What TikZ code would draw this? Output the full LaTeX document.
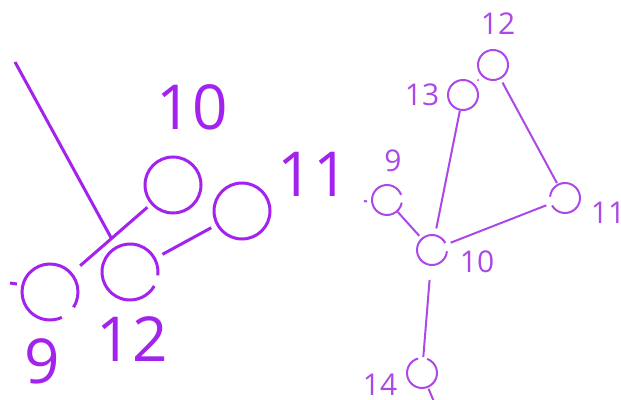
\documentclass[tikz,border=0pt]{standalone}
\usepackage{fontspec}
\setmainfont{Open Sans}
\usetikzlibrary{calc}
\definecolor{purpA}{RGB}{163,34,238}
\definecolor{purpB}{RGB}{172,72,232}
\tikzset{
  bigring/.style={circle, minimum size=56pt, inner sep=0pt, outer sep=0pt, draw=none},
  smallring/.style={circle, minimum size=30pt, inner sep=0pt, outer sep=0pt, draw=none},
  bigline/.style={draw=purpA, line width=3pt},
  smallline/.style={draw=purpB, line width=2pt},
  biglabel/.style={text=purpA, font=\fontsize{62}{62}\selectfont, inner sep=0pt},
  smalllabel/.style={text=purpB, font=\fontsize{30}{30}\selectfont, inner sep=0pt},
}
\newcommand{\ringarc}[5]{\draw[#5] (#1.#3) arc[start angle=#3, end angle=#4, radius=#2];}
\begin{document}
\begin{tikzpicture}[x=1pt,y=1pt]
\useasboundingbox (0,0) rectangle (621,399);
\clip (0,0) rectangle (621,399);
% ---------- left graph ----------
\node[bigring] (L10) at (173,214) {};
\node[bigring] (L11) at (242,188) {};
\node[bigring] (L12) at (130,127) {};
\node[bigring] (L9)  at (50,107) {};
\draw[bigline] (L10) circle[radius=28];
\draw[bigline] (L11) circle[radius=28];
\ringarc{L12}{28}{-7}{330}{bigline}
\ringarc{L9}{28}{-33}{295}{bigline}
\node[biglabel] (tL10) at (192,292) {10};
\node[biglabel] (tL11) at (313,225) {11};
\node[biglabel] (tL12) at (132,60) {12};
\node[biglabel] (tL9)  at (42,38) {9};
\draw[bigline, shorten <=12pt, shorten >=6pt] (L9) -- (L10);
\draw[bigline, shorten <=9pt, shorten >=7pt] (L12) -- (L11);
\coordinate (Ltop) at (15,337);
\coordinate (Ljoin) at ($(L9)!0.5!(L10)$);
\draw[bigline] (Ltop) -- (Ljoin);
\coordinate (Ld1) at (10,116);
\coordinate (Ld2) at (17,115);
\draw[bigline] (Ld1) -- (Ld2);
% ---------- right graph ----------
\node[smallring] (R12) at (493,334) {};
\node[smallring] (R13) at (463,304) {};
\node[smallring] (R9)  at (387,199) {};
\node[smallring] (R10) at (432,149) {};
\node[smallring] (R11) at (565,201) {};
\node[smallring] (R14) at (422,26) {};
\draw[smallline] (R12) circle[radius=15];
\draw[smallline] (R13) circle[radius=15];
\ringarc{R9}{15}{20}{350}{smallline}
\ringarc{R10}{15}{28}{355}{smallline}
\ringarc{R11}{15}{210}{535}{smallline}
\ringarc{R14}{15}{105}{430}{smallline}
\node[smalllabel] (tR12) at (498,375) {12};
\node[smalllabel] (tR13) at (422,304) {13};
\node[smalllabel] (tR9)  at (393,238) {9};
\node[smalllabel] (tR10) at (477,137) {10};
\node[smalllabel] (tR11) at (608,186) {11};
\node[smalllabel] (tR14) at (380,14) {14};
\draw[smallline, shorten <=1pt, shorten >=7pt] (R13) -- (R10);
\draw[smallline, shorten <=5pt, shorten >=2pt] (R12) -- (R11);
\draw[smallline, shorten <=1pt, shorten >=4pt] (R9) -- (R10);
\draw[smallline, shorten <=5pt, shorten >=5pt] (R10) -- (R11);
\draw[smallline, shorten <=15pt, shorten >=1pt] (R10) -- (R14);
\coordinate (Rbot) at (437,-10);
\draw[smallline, shorten <=2pt] (R14) -- (Rbot);
\coordinate (Rd1) at (364,198);
\coordinate (Rd2) at (367,197.5);
\draw[smallline] (Rd1) -- (Rd2);
\coordinate (Rd3) at (477.5,319.5);
\coordinate (Rd4) at (478.5,318.5);
\draw[smallline, line width=1.5pt] (Rd3) -- (Rd4);
\end{tikzpicture}
\end{document}
